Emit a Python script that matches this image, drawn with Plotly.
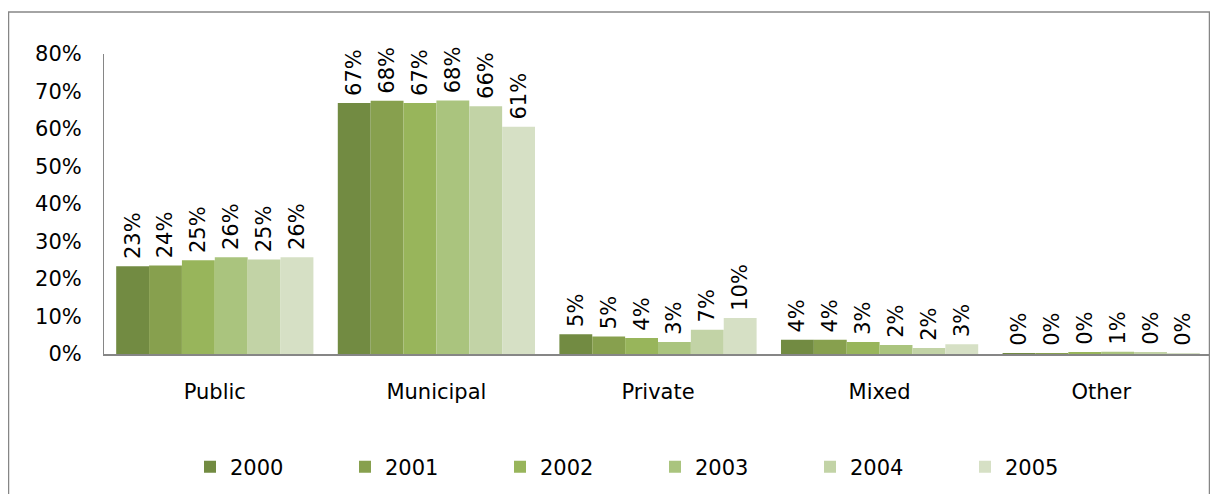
import plotly.graph_objects as go

categories = ["Public", "Municipal", "Private", "Mixed", "Other"]
years = ["2000", "2001", "2002", "2003", "2004", "2005"]
values = {
    "2000": [0.234, 0.669, 0.053, 0.038, 0.002],
    "2001": [0.236, 0.675, 0.047, 0.038, 0.002],
    "2002": [0.250, 0.669, 0.043, 0.032, 0.004],
    "2003": [0.258, 0.676, 0.032, 0.024, 0.006],
    "2004": [0.252, 0.661, 0.065, 0.016, 0.003],
    "2005": [0.258, 0.606, 0.096, 0.026, 0.002],
}
colors = ["#728B42", "#87A04E", "#98B55B", "#AAC47E", "#C2D3A6", "#D6E0C5"]
y_ticks = [0, 0.1, 0.2, 0.3, 0.4, 0.5, 0.6, 0.7, 0.8]

FONT = "DejaVu Sans, Arial"

# page is offset by the 8px default body margin
OFF = 8
W, H = 1218 - OFF, 494 - OFF
PL, PR, PT, PB = 104, 1212, 54, 354  # plot area in page pixels
PW, PH = PR - PL, PB - PT


def px(xp):
    return (xp - PL) / PW


def py(yp):
    return (PB - yp) / PH


fig = go.Figure()
for yr, col in zip(years, colors):
    fig.add_trace(go.Bar(
        name=yr, x=categories, y=values[yr], marker_color=col,
        marker_line_width=0,
        texttemplate="\u2009%{y:.0%}", textposition="outside", textangle=-90,
        textfont=dict(family=FONT, size=21, color="#000000"),
        cliponaxis=False, constraintext="none",
    ))

fig.update_layout(
    width=W, height=H,
    margin=dict(l=PL - OFF, r=W - (PR - OFF), t=PT - OFF, b=H - (PB - OFF), autoexpand=False),
    paper_bgcolor="white", plot_bgcolor="white",
    barmode="group", bargap=0.11, bargroupgap=0,
    font=dict(family=FONT, size=21, color="#000000"),
    xaxis=dict(showline=True, linecolor="#868686", linewidth=1.5, showgrid=False,
               ticks="outside", ticklen=0, ticklabelstandoff=18,
               tickfont=dict(size=21), automargin=False),
    yaxis=dict(range=[0, 0.8], tickvals=y_ticks, tickformat=".0%",
               showline=True, linecolor="#868686", linewidth=1, showgrid=False,
               zeroline=False, ticks="outside", ticklen=0, ticklabelstandoff=17,
               tickfont=dict(size=21), automargin=False),
    legend=dict(orientation="h", x=px(190), xanchor="left",
                y=py(467), yanchor="middle",
                entrywidth=110, entrywidthmode="pixels",
                font=dict(size=21), traceorder="normal"),
    shapes=[dict(type="rect", xref="paper", yref="paper",
                 x0=px(8.5), x1=px(1209.5),
                 y0=py(510), y1=py(12),
                 line=dict(color="#868686", width=1.5), fillcolor="rgba(0,0,0,0)",
                 layer="below")],
)

fig.write_html("out.html")
